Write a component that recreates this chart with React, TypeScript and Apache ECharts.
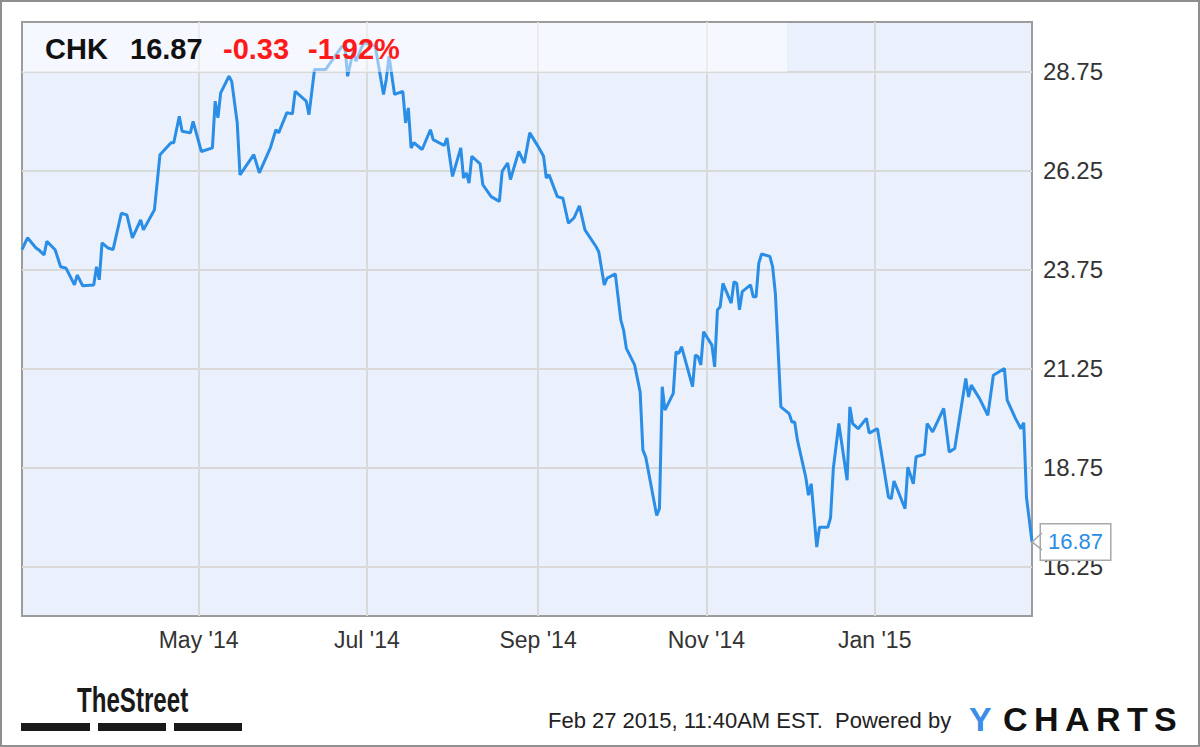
import React, { useEffect, useRef } from "react";
import * as echarts from "echarts";

const dates = [
  "2014-02-26","2014-02-28","2014-03-03","2014-03-04","2014-03-06","2014-03-07","2014-03-10","2014-03-12","2014-03-14","2014-03-17",
  "2014-03-18","2014-03-20","2014-03-24","2014-03-25","2014-03-26","2014-03-27","2014-03-29","2014-03-31","2014-04-03","2014-04-05",
  "2014-04-07","2014-04-10","2014-04-11","2014-04-15","2014-04-17","2014-04-21","2014-04-22","2014-04-24","2014-04-25","2014-04-28",
  "2014-04-29","2014-05-02","2014-05-06","2014-05-07","2014-05-08","2014-05-09","2014-05-12","2014-05-13","2014-05-15","2014-05-16",
  "2014-05-21","2014-05-23","2014-05-27","2014-05-29","2014-05-30","2014-06-02","2014-06-04","2014-06-05","2014-06-09","2014-06-10",
  "2014-06-12","2014-06-16","2014-06-22","2014-06-23","2014-06-24","2014-06-26","2014-06-27","2014-06-29","2014-06-30","2014-07-04",
  "2014-07-07","2014-07-08","2014-07-09","2014-07-11","2014-07-14","2014-07-15","2014-07-16","2014-07-17","2014-07-18","2014-07-21",
  "2014-07-24","2014-07-25","2014-07-29","2014-07-30","2014-08-01","2014-08-04","2014-08-05","2014-08-06","2014-08-07","2014-08-08",
  "2014-08-11","2014-08-12","2014-08-15","2014-08-18","2014-08-19","2014-08-21","2014-08-22","2014-08-25","2014-08-27","2014-08-29",
  "2014-09-01","2014-09-03","2014-09-04","2014-09-05","2014-09-08","2014-09-10","2014-09-12","2014-09-14","2014-09-16","2014-09-18",
  "2014-09-22","2014-09-23","2014-09-25","2014-09-26","2014-09-29","2014-10-01","2014-10-02","2014-10-03","2014-10-06","2014-10-08",
  "2014-10-09","2014-10-10","2014-10-14","2014-10-15","2014-10-16","2014-10-17","2014-10-20","2014-10-21","2014-10-22","2014-10-23",
  "2014-10-27","2014-10-28","2014-10-29","2014-10-30","2014-10-31","2014-11-03","2014-11-04","2014-11-05","2014-11-06","2014-11-07",
  "2014-11-10","2014-11-11","2014-11-12","2014-11-13","2014-11-14","2014-11-17","2014-11-18","2014-11-19","2014-11-20","2014-11-21",
  "2014-11-24","2014-11-25","2014-11-26","2014-11-28","2014-12-01","2014-12-02","2014-12-03","2014-12-04","2014-12-07","2014-12-08",
  "2014-12-09","2014-12-11","2014-12-12","2014-12-15","2014-12-16","2014-12-17","2014-12-19","2014-12-22","2014-12-23","2014-12-24",
  "2014-12-26","2014-12-29","2014-12-30","2015-01-02","2015-01-06","2015-01-07","2015-01-08","2015-01-12","2015-01-13","2015-01-15",
  "2015-01-16","2015-01-19","2015-01-20","2015-01-22","2015-01-26","2015-01-28","2015-01-30","2015-02-03","2015-02-04","2015-02-05",
  "2015-02-08","2015-02-11","2015-02-13","2015-02-17","2015-02-18","2015-02-21","2015-02-23","2015-02-24","2015-02-25","2015-02-27",
];

const closes = [
  24.25,24.55,24.30,24.25,24.12,24.46,24.25,23.82,23.78,23.36,
  23.61,23.34,23.36,23.82,23.49,24.42,24.30,24.25,25.17,25.13,
  24.55,25.00,24.75,25.26,26.65,26.95,26.95,27.62,27.24,27.20,
  27.49,26.73,26.82,28.00,27.58,28.21,28.63,28.50,27.45,26.14,
  26.65,26.19,26.82,27.28,27.20,27.71,27.68,28.25,28.00,27.66,
  28.80,28.80,29.39,29.39,28.63,29.26,29.01,29.35,29.48,29.39,
  28.17,28.55,29.14,28.17,28.25,27.45,27.83,26.82,26.95,26.78,
  27.28,27.03,26.88,27.07,26.10,26.82,26.06,26.19,25.93,26.61,
  26.42,25.89,25.59,25.47,26.23,26.44,26.02,26.73,26.44,27.20,
  26.86,26.61,26.06,26.14,25.59,25.55,24.92,25.05,25.36,24.75,
  24.33,24.20,23.36,23.53,23.64,22.47,22.22,21.76,21.34,20.66,
  19.19,19.02,17.54,17.71,20.79,20.20,20.62,21.67,21.63,21.80,
  20.79,21.59,21.55,21.34,22.18,21.84,21.29,22.73,22.81,23.40,
  22.90,23.44,23.40,22.73,23.19,23.36,23.06,23.06,23.91,24.14,
  24.08,23.82,23.15,20.28,20.11,19.90,19.90,19.44,18.51,18.05,
  18.34,16.74,17.24,17.24,17.48,18.72,19.86,18.43,20.28,19.86,
  19.73,19.99,19.62,19.73,18.00,17.96,18.41,17.71,18.76,18.34,
  19.02,19.08,19.86,19.65,20.24,19.14,19.23,21.00,20.53,20.83,
  20.49,20.07,21.08,21.25,20.45,19.99,19.73,19.88,18.00,16.87,
];

const xTickDates = ["2014-05-01", "2014-07-01", "2014-09-01", "2014-11-01", "2015-01-01"];
const xTickLabels = ["May '14", "Jul '14", "Sep '14", "Nov '14", "Jan '15"];
const yTicks = [16.25, 18.75, 21.25, 23.75, 26.25, 28.75];
const yTickLabels = ["16.25", "18.75", "21.25", "23.75", "26.25", "28.75"];
const xRange = ["2014-02-26", "2015-02-27"];
const yRange = [15, 30];

const ticker = "CHK";
const lastPrice = "16.87";
const change = "-0.33";
const changePct = "-1.92%";
const footerText = "Feb 27 2015, 11:40AM EST.  Powered by";
const brandLetters = ["Y", "C", "H", "A", "R", "T", "S"];
const streetLogo = "TheStreet";

function parseLocal(s: string): number {
  const [y, m, d] = s.split("-").map(Number);
  return Date.UTC(y, m - 1, d);
}

const FONT = "Liberation Sans, Arial, sans-serif";
const BRAND_X = [969, 1003, 1034, 1065, 1096, 1127, 1154];

export default function App() {
  const ref = useRef<HTMLDivElement>(null);

  useEffect(() => {
    if (!ref.current) return;
    const chart = echarts.init(ref.current, undefined, { renderer: "svg" });
    const xTickTs = xTickDates.map(parseLocal);
    const seriesData = dates.map((d, i) => [parseLocal(d), closes[i]]);

    const headerText = (id: string, x: number, text: string, fill: string) => ({
      id,
      type: "text",
      x,
      y: 49,
      style: { text, font: `bold 29px ${FONT}`, fill, verticalAlign: "middle" },
      z: 60,
    });

    const graphics: any[] = [
      {
        id: "outer",
        type: "rect",
        shape: { x: 1, y: 1, width: 1198, height: 745 },
        style: { fill: "none", stroke: "#8f8f8f", lineWidth: 2 },
        z: 100,
        silent: true,
      },
      {
        id: "band",
        type: "rect",
        shape: { x: 23, y: 23, width: 764, height: 49 },
        style: { fill: "rgba(255,255,255,0.5)" },
        z: 50,
        silent: true,
      },
      headerText("t1", 45, ticker, "#111"),
      headerText("t2", 130, lastPrice, "#111"),
      headerText("t3", 223, change, "#ff1a1a"),
      headerText("t4", 308, changePct, "#ff1a1a"),
      {
        id: "street",
        type: "text",
        x: 77,
        y: 699,
        scaleX: 0.67,
        style: { text: streetLogo, font: `bold 36px ${FONT}`, fill: "#1a1a1a", verticalAlign: "middle" },
        z: 60,
      },
      { id: "bar1", type: "rect", shape: { x: 21, y: 723, width: 69, height: 8 }, style: { fill: "#1a1a1a" } },
      { id: "bar2", type: "rect", shape: { x: 98, y: 723, width: 68, height: 8 }, style: { fill: "#1a1a1a" } },
      { id: "bar3", type: "rect", shape: { x: 174, y: 723, width: 68, height: 8 }, style: { fill: "#1a1a1a" } },
      {
        id: "footer",
        type: "text",
        x: 548,
        y: 720,
        style: { text: footerText, font: `22px ${FONT}`, fill: "#222", verticalAlign: "middle" },
      },
      ...brandLetters.map((ch, i) => ({
        id: "brand" + i,
        type: "text",
        x: BRAND_X[i],
        y: 719,
        style: {
          text: ch,
          font: `bold 34px ${FONT}`,
          fill: i === 0 ? "#3b8ee8" : "#111",
          align: "left",
          verticalAlign: "middle",
        },
      })),
    ];

    const option: any = {
      animation: false,
      backgroundColor: "#ffffff",
      textStyle: { fontFamily: FONT },
      grid: {
        left: 22,
        top: 22,
        right: 168,
        bottom: 131,
        show: true,
        backgroundColor: "#eaf1fc",
        borderColor: "#9c9c9c",
        borderWidth: 2,
      },
      xAxis: {
        type: "value",
        min: parseLocal(xRange[0]),
        max: parseLocal(xRange[1]),
        axisLine: { show: false },
        axisTick: { show: false, customValues: xTickTs },
        axisLabel: {
          customValues: xTickTs,
          formatter: (v: number) => {
            const idx = xTickTs.indexOf(v);
            return idx >= 0 ? xTickLabels[idx] : "";
          },
          color: "#333",
          fontSize: 23,
          margin: 12,
          fontFamily: FONT,
        },
        splitLine: { show: true, lineStyle: { color: "#d9d9d9", width: 2 } },
      },
      yAxis: {
        type: "value",
        position: "right",
        min: yRange[0],
        max: yRange[1],
        axisLine: { show: false },
        axisTick: { show: false, customValues: yTicks },
        axisLabel: {
          customValues: yTicks,
          formatter: (v: number) => {
            const idx = yTicks.indexOf(v);
            return idx >= 0 ? yTickLabels[idx] : "";
          },
          color: "#333",
          fontSize: 24,
          margin: 11,
          fontFamily: FONT,
        },
        splitLine: { show: true, lineStyle: { color: "#d9d9d9", width: 2 } },
      },
      series: [
        {
          type: "line",
          data: seriesData,
          showSymbol: false,
          symbol: "none",
          lineStyle: { color: "#2a8de6", width: 3 },
          z: 5,
          endLabel: {
            show: true,
            formatter: (p: any) => Number(p.value[1]).toFixed(2),
            color: "#2a8de6",
            fontSize: 22,
            fontFamily: FONT,
            backgroundColor: "#ffffff",
            borderColor: "#a8a8a8",
            borderWidth: 1.5,
            padding: [7, 7, 6, 7],
            distance: 9,
          },
        },
      ],
      graphic: graphics,
    };

    chart.setOption(option);

    const p = chart.convertToPixel({ gridIndex: 0 }, [
      parseLocal(dates[dates.length - 1]),
      closes[closes.length - 1],
    ]) as number[];
    if (p && isFinite(p[0]) && isFinite(p[1])) {
      chart.setOption({
        graphic: [
          ...graphics,
          {
            id: "pointer",
            type: "polyline",
            shape: {
              points: [
                [p[0] + 10, p[1] - 9],
                [p[0], p[1]],
                [p[0] + 10, p[1] + 8],
              ],
            },
            style: { stroke: "#a8a8a8", lineWidth: 1.5, fill: "none" },
            z: 40,
          },
        ],
      });
    }

    return () => chart.dispose();
  }, []);

  return (
    <div
      ref={ref}
      style={{ position: "fixed", left: 0, top: 0, width: 1200, height: 747, background: "#fff" }}
    />
  );
}
